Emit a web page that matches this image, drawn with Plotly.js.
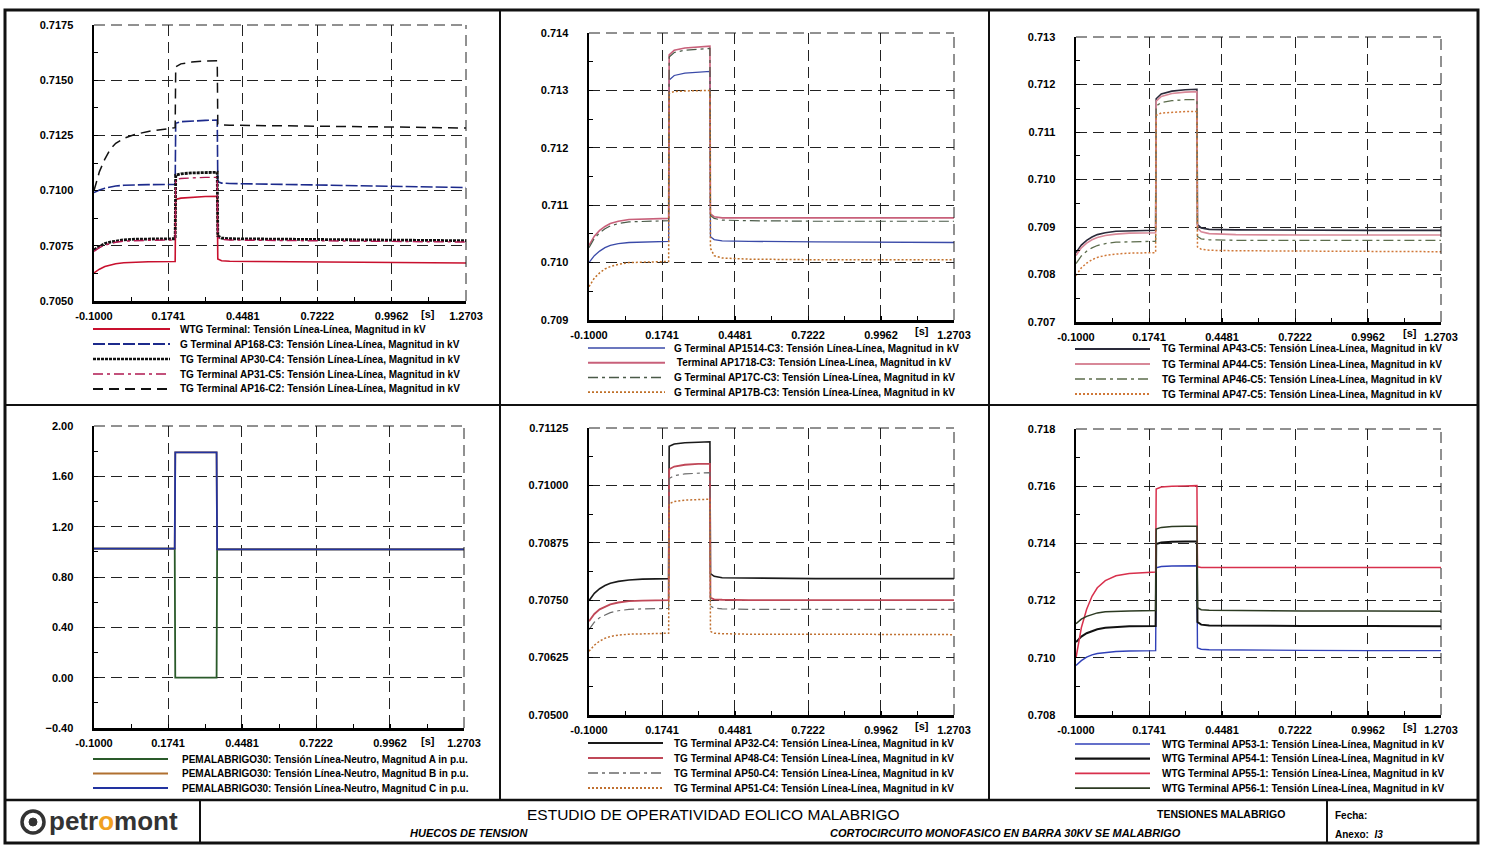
<!DOCTYPE html>
<html><head><meta charset="utf-8">
<script src="https://cdn.plot.ly/plotly-3.0.1.min.js"></script>
<style>html,body{margin:0;padding:0;background:#fff;}#chart{width:1485px;height:845px;}</style>
</head><body><div id="chart"></div>
<script>
// ---------- DATA ----------
const t = [-0.1, -0.08, -0.06, -0.04, -0.02, 0.01, 0.05, 0.10, 0.199, 0.201, 0.22, 0.26, 0.31, 0.354, 0.356, 0.37, 0.40, 0.50, 0.75, 1.00, 1.2703];
const xTickVals = [-0.1, 0.1741, 0.4481, 0.7222, 0.9962, 1.2703];
const xTickText = ["-0.1000", "0.1741", "0.4481", "0.7222", "0.9962", "1.2703"];

// Panel 1
const p1Names = [
  "WTG Terminal: Tensión Línea-Línea, Magnitud in kV",
  "G Terminal AP168-C3: Tensión Línea-Línea, Magnitud in kV",
  "TG Terminal AP30-C4: Tensión Línea-Línea, Magnitud in kV",
  "TG Terminal AP31-C5: Tensión Línea-Línea, Magnitud in kV",
  "TG Terminal AP16-C2: Tensión Línea-Línea, Magnitud in kV"];
const p1_wtg   = [0.70627,0.70644,0.70656,0.70663,0.70669,0.70673,0.70676,0.70678,0.70679, 0.70960,0.70966,0.70970,0.70973,0.70974, 0.70690,0.70682,0.70680,0.70679,0.70677,0.70675,0.70672];
const p1_ap168 = [0.70991,0.71003,0.71011,0.71017,0.71021,0.71024,0.71026,0.71027,0.71028, 0.71305,0.71312,0.71316,0.71318,0.71319, 0.71040,0.71034,0.71032,0.71030,0.71025,0.71019,0.71014];
const p1_ap30  = [0.70732,0.70748,0.70760,0.70767,0.70772,0.70777,0.70780,0.70781,0.70782, 0.71070,0.71076,0.71080,0.71082,0.71083, 0.70795,0.70785,0.70782,0.70781,0.70779,0.70776,0.70773];
const p1_ap31  = [0.70725,0.70742,0.70753,0.70761,0.70766,0.70771,0.70774,0.70775,0.70776, 0.71050,0.71055,0.71058,0.71060,0.71060, 0.70788,0.70779,0.70776,0.70775,0.70773,0.70770,0.70767];
const p1_ap16  = [0.71000,0.71086,0.71143,0.71188,0.71214,0.71237,0.71254,0.71268,0.71285, 0.71560,0.71574,0.71582,0.71587,0.71588, 0.71300,0.71297,0.71296,0.71295,0.71292,0.71288,0.71283];

// Panel 2
const p2Names = [
  "G Terminal AP1514-C3: Tensión Línea-Línea, Magnitud in kV",
  " Terminal AP1718-C3: Tensión Línea-Línea, Magnitud in kV",
  "G Terminal AP17C-C3: Tensión Línea-Línea, Magnitud in kV",
  "G Terminal AP17B-C3: Tensión Línea-Línea, Magnitud in kV"];
const p2_ap1514 = [0.71000,0.71012,0.71020,0.71026,0.71030,0.71033,0.71035,0.71036,0.71037, 0.71318,0.71326,0.71330,0.71332,0.71333, 0.71045,0.71040,0.71038,0.71037,0.71036,0.71036,0.71035];
const p2_ap1718 = [0.71030,0.71046,0.71056,0.71063,0.71068,0.71072,0.71075,0.71076,0.71077, 0.71362,0.71370,0.71374,0.71376,0.71377, 0.71085,0.71080,0.71078,0.71078,0.71078,0.71078,0.71078];
const p2_ap17c  = [0.71026,0.71042,0.71052,0.71059,0.71064,0.71068,0.71071,0.71072,0.71073, 0.71358,0.71366,0.71370,0.71372,0.71373, 0.71082,0.71077,0.71074,0.71073,0.71072,0.71072,0.71072];
const p2_ap17b  = [0.70958,0.70973,0.70982,0.70989,0.70993,0.70997,0.71000,0.71001,0.71002, 0.71295,0.71298,0.71299,0.71300,0.71300, 0.71025,0.71012,0.71008,0.71006,0.71005,0.71005,0.71005];

// Panel 3
const p3Names = [
  "TG Terminal AP43-C5: Tensión Línea-Línea, Magnitud in kV",
  "TG Terminal AP44-C5: Tensión Línea-Línea, Magnitud in kV",
  "TG Terminal AP46-C5: Tensión Línea-Línea, Magnitud in kV",
  "TG Terminal AP47-C5: Tensión Línea-Línea, Magnitud in kV"];
const p3_ap43 = [0.70846,0.70862,0.70872,0.70879,0.70884,0.70888,0.70891,0.70892,0.70893, 0.71170,0.71180,0.71186,0.71189,0.71190, 0.70905,0.70898,0.70895,0.70894,0.70893,0.70893,0.70893];
const p3_ap44 = [0.70840,0.70856,0.70866,0.70873,0.70878,0.70882,0.70885,0.70887,0.70888, 0.71165,0.71175,0.71181,0.71184,0.71185, 0.70898,0.70890,0.70886,0.70884,0.70883,0.70883,0.70883];
const p3_ap46 = [0.70823,0.70839,0.70849,0.70856,0.70861,0.70865,0.70868,0.70869,0.70870, 0.71155,0.71162,0.71166,0.71168,0.71168, 0.70880,0.70875,0.70873,0.70872,0.70872,0.70872,0.70872];
const p3_ap47 = [0.70798,0.70814,0.70824,0.70831,0.70836,0.70840,0.70843,0.70845,0.70846, 0.71135,0.71140,0.71142,0.71143,0.71143, 0.70858,0.70853,0.70851,0.70850,0.70849,0.70849,0.70848];

// Panel 4
const p4Names = [
  "PEMALABRIGO30: Tensión Línea-Neutro, Magnitud A in p.u.",
  "PEMALABRIGO30: Tensión Línea-Neutro, Magnitud B in p.u.",
  "PEMALABRIGO30: Tensión Línea-Neutro, Magnitud C in p.u."];
const p4_a = [1.025,1.025,1.025,1.025,1.025,1.025,1.025,1.025,1.025, 0.00,0.00,0.00,0.00,0.00, 1.02,1.02,1.02,1.02,1.02,1.02,1.02];
const p4_b = [1.025,1.025,1.025,1.025,1.025,1.025,1.025,1.025,1.025, 1.79,1.79,1.79,1.79,1.79, 1.02,1.02,1.02,1.02,1.02,1.02,1.02];
const p4_c = [1.025,1.025,1.025,1.025,1.025,1.025,1.025,1.025,1.025, 1.79,1.79,1.79,1.79,1.79, 1.02,1.02,1.02,1.02,1.02,1.02,1.02];

// Panel 5
const p5Names = [
  "TG Terminal AP32-C4: Tensión Línea-Línea, Magnitud in kV",
  "TG Terminal AP48-C4: Tensión Línea-Línea, Magnitud in kV",
  "TG Terminal AP50-C4: Tensión Línea-Línea, Magnitud in kV",
  "TG Terminal AP51-C4: Tensión Línea-Línea, Magnitud in kV"];
const p5_ap32 = [0.70749,0.70765,0.70775,0.70782,0.70787,0.70791,0.70794,0.70796,0.70797, 0.71085,0.71090,0.71093,0.71094,0.71095, 0.70808,0.70802,0.70799,0.70798,0.70797,0.70797,0.70797];
const p5_ap48 = [0.70704,0.70720,0.70730,0.70736,0.70741,0.70745,0.70748,0.70749,0.70750, 0.71035,0.71041,0.71045,0.71047,0.71047, 0.70755,0.70752,0.70751,0.70750,0.70750,0.70750,0.70750];
const p5_ap50 = [0.70686,0.70702,0.70712,0.70718,0.70723,0.70727,0.70730,0.70731,0.70732, 0.71015,0.71021,0.71025,0.71027,0.71028, 0.70737,0.70733,0.70731,0.70730,0.70730,0.70730,0.70730];
const p5_ap51 = [0.70639,0.70652,0.70661,0.70667,0.70671,0.70674,0.70676,0.70677,0.70678, 0.70960,0.70965,0.70968,0.70969,0.70970, 0.70682,0.70678,0.70677,0.70676,0.70676,0.70675,0.70675];

// Panel 6
const p6Names = [
  "WTG Terminal AP53-1: Tensión Línea-Línea, Magnitud in kV",
  "WTG Terminal AP54-1: Tensión Línea-Línea, Magnitud in kV",
  "WTG Terminal AP55-1: Tensión Línea-Línea, Magnitud in kV",
  "WTG Terminal AP56-1: Tensión Línea-Línea, Magnitud in kV"];
const p6_ap53 = [0.70973,0.70990,0.71002,0.71010,0.71015,0.71019,0.71022,0.71024,0.71025, 0.71315,0.71319,0.71321,0.71322,0.71322, 0.71035,0.71030,0.71028,0.71027,0.71026,0.71025,0.71025];
const p6_ap54 = [0.71055,0.71074,0.71086,0.71094,0.71100,0.71105,0.71108,0.71110,0.71111, 0.71398,0.71403,0.71406,0.71407,0.71407, 0.71125,0.71116,0.71113,0.71112,0.71111,0.71111,0.71110];
const p6_ap55 = [0.71000,0.71105,0.71170,0.71215,0.71245,0.71270,0.71287,0.71295,0.71300, 0.71590,0.71597,0.71600,0.71601,0.71602, 0.71318,0.71316,0.71316,0.71316,0.71316,0.71316,0.71316];
const p6_ap56 = [0.71119,0.71135,0.71145,0.71152,0.71157,0.71161,0.71163,0.71164,0.71165, 0.71450,0.71456,0.71459,0.71460,0.71460, 0.71175,0.71168,0.71166,0.71165,0.71164,0.71164,0.71163];

// ---------- STYLES / LAYOUT ----------
const W = 1485, H = 845;
const FONT = "Liberation Sans, Arial, sans-serif";
const px = x => x / W, py = y => 1 - y / H;
const GRIDDASH = '11px,6px';

const panels = [
  {box:[94,466,25,301],  yr:[0.705,0.7175], dt:0.0025,  fmt:'.4f', names:p1Names, data:[p1_wtg,p1_ap168,p1_ap30,p1_ap31,p1_ap16],
   styles:[{color:'#c8102e',width:1.6,dash:'solid'},{color:'#1c2a8c',width:1.6,dash:'12px,3px'},{color:'#111',width:2.8,dash:'3px,1px'},{color:'#b01850',width:1.4,dash:'10px,4px,3px,4px'},{color:'#111',width:1.5,dash:'10px,6px'}],
   leg:{sx0:93,sx1:170,tx:178,y0:329,dy:15}, s:[428,314]},
  {box:[589,954,33,320], yr:[0.709,0.714],  dt:0.001,   fmt:'.3f', names:p2Names, data:[p2_ap1514,p2_ap1718,p2_ap17c,p2_ap17b],
   styles:[{color:'#3a4aa8',width:1.3,dash:'solid'},{color:'#c8607a',width:1.6,dash:'solid'},{color:'#4a5a48',width:1.2,dash:'10px,4px,3px,4px'},{color:'#c07028',width:1.5,dash:'2px,2px'}],
   leg:{sx0:588,sx1:665,tx:672,y0:348,dy:14.7}, s:[922,331]},
  {box:[1076,1441,37,322], yr:[0.707,0.713], dt:0.001,  fmt:'.3f', names:p3Names, data:[p3_ap43,p3_ap44,p3_ap46,p3_ap47],
   styles:[{color:'#2a2a3a',width:1.6,dash:'solid'},{color:'#d88898',width:1.6,dash:'solid'},{color:'#5c6c4c',width:1.3,dash:'10px,4px,3px,4px'},{color:'#d07838',width:1.5,dash:'2px,2px'}],
   leg:{sx0:1075,sx1:1150,tx:1160,y0:349,dy:15}, s:[1410,333]},
  {box:[94,464,426,728], yr:[-0.4,2.0],     dt:0.4,     fmt:'.2f', names:p4Names, data:[p4_a,p4_b,p4_c],
   styles:[{color:'#2a5a2a',width:1.8,dash:'solid'},{color:'#b07030',width:1.8,dash:'solid'},{color:'#2233a0',width:1.8,dash:'solid'}],
   leg:{sx0:93,sx1:168,tx:180,y0:759,dy:14.5}, s:[428,741]},
  {box:[589,954,428,715], yr:[0.705,0.71125], dt:0.00125, fmt:'.5f', names:p5Names, data:[p5_ap32,p5_ap48,p5_ap50,p5_ap51],
   styles:[{color:'#1a1a1a',width:1.6,dash:'solid'},{color:'#c04858',width:1.8,dash:'solid'},{color:'#6a6a6a',width:1.2,dash:'10px,4px,3px,4px'},{color:'#c07030',width:1.5,dash:'2px,2px'}],
   leg:{sx0:588,sx1:663,tx:672,y0:743,dy:15}, s:[922,726]},
  {box:[1076,1441,429,715], yr:[0.708,0.718], dt:0.002,  fmt:'.3f', names:p6Names, data:[p6_ap53,p6_ap54,p6_ap55,p6_ap56],
   styles:[{color:'#3040b8',width:1.4,dash:'solid'},{color:'#111',width:2.0,dash:'solid'},{color:'#d8304c',width:1.5,dash:'solid'},{color:'#2c3a22',width:1.5,dash:'solid'}],
   leg:{sx0:1075,sx1:1150,tx:1160,y0:744,dy:14.7}, s:[1410,727]}
];

const traces = [], shapes = [], annotations = [];
const layout = {
  width: W, height: H, margin:{l:0,r:0,t:0,b:0}, showlegend:false,
  paper_bgcolor:'#fff', plot_bgcolor:'#fff', font:{family:FONT, color:'#000'}
};
const tickFont = {family:FONT, size:11, color:'#000', weight:'bold'};
const legFont = {family:FONT, size:10, color:'#000', weight:'bold'};

panels.forEach((p, i) => {
  const n = i === 0 ? '' : String(i + 1);
  const [x0, x1, y0, y1] = p.box;
  layout['xaxis' + n] = {
    domain:[px(x0), px(x1)], anchor:'y' + n, range:[-0.1, 1.2703],
    tickmode:'array', tickvals:xTickVals, ticktext:xTickText,
    showgrid:true, gridcolor:'#222', griddash:GRIDDASH, gridwidth:1,
    showline:true, linecolor:'#000', linewidth:2.5, zeroline:false,
    ticks:'inside', ticklen:4, tickcolor:'#000', tickfont:tickFont, ticklabelstandoff:3,
    minor:{tickmode:'linear', tick0:-0.1, dtick:0.13703, ticks:'inside', ticklen:4, tickcolor:'#000', showgrid:false},
    fixedrange:true
  };
  layout['yaxis' + n] = {
    domain:[py(y1), py(y0)], anchor:'x' + n, range:p.yr,
    tickmode:'linear', tick0:p.yr[0], dtick:p.dt, tickformat:p.fmt,
    showgrid:true, gridcolor:'#222', griddash:GRIDDASH, gridwidth:1,
    showline:true, linecolor:'#000', linewidth:2.5, zeroline:false,
    ticks:'inside', ticklen:4, tickcolor:'#000', tickfont:tickFont, ticklabelstandoff:16,
    minor:{tickmode:'linear', tick0:p.yr[0], dtick:p.dt / 2, ticks:'inside', ticklen:4, tickcolor:'#000', showgrid:false},
    fixedrange:true
  };
  // dashed grid lines on the top and right edges of the plot area
  shapes.push({type:'line', xref:'x' + n + ' domain', yref:'y' + n + ' domain', x0:0, x1:1, y0:1, y1:1,
    line:{color:'#222', width:1, dash:GRIDDASH}});
  shapes.push({type:'line', xref:'x' + n + ' domain', yref:'y' + n + ' domain', x0:1, x1:1, y0:0, y1:1,
    line:{color:'#222', width:1, dash:GRIDDASH}});
  p.data.forEach((ys, k) => {
    traces.push({type:'scatter', mode:'lines', x:t, y:ys, name:p.names[k], xaxis:'x' + n, yaxis:'y' + n,
      line:{color:p.styles[k].color, width:p.styles[k].width, dash:p.styles[k].dash}, hoverinfo:'skip'});
  });
  // legend (drawn manually to match compact rows)
  p.names.forEach((nm, k) => {
    const yy = p.leg.y0 + k * p.leg.dy;
    const st = p.styles[k];
    shapes.push({type:'line', xref:'paper', yref:'paper', x0:px(p.leg.sx0), x1:px(p.leg.sx1), y0:py(yy), y1:py(yy),
      line:{color:st.color, width:Math.min(st.width + 0.3, 2.4), dash:st.dash}});
    annotations.push({xref:'paper', yref:'paper', x:px(p.leg.tx), y:py(yy), xanchor:'left', yanchor:'middle',
      text:nm, showarrow:false, font:legFont});
  });
  annotations.push({xref:'paper', yref:'paper', x:px(p.s[0]), y:py(p.s[1]), xanchor:'center', yanchor:'middle',
    text:'[s]', showarrow:false, font:tickFont});
});

// frame lines
const frameLine = (xa, ya, xb, yb, w) => shapes.push({type:'line', xref:'paper', yref:'paper',
  x0:px(xa), y0:py(ya), x1:px(xb), y1:py(yb), line:{color:'#111', width:w}});
shapes.push({type:'rect', xref:'paper', yref:'paper', x0:px(5), x1:px(1478), y0:py(843), y1:py(10), line:{color:'#111', width:3}});
frameLine(5, 405, 1478, 405, 2);
frameLine(500, 10, 500, 800, 2);
frameLine(989, 10, 989, 800, 2);
frameLine(5, 800, 1478, 800, 2.5);
frameLine(200, 800, 200, 843, 2);
frameLine(1327, 800, 1327, 843, 2);

// logo
shapes.push({type:'circle', xref:'paper', yref:'paper', x0:px(22), x1:px(44), y0:py(833), y1:py(811), line:{color:'#333', width:3.5}});
shapes.push({type:'circle', xref:'paper', yref:'paper', x0:px(29), x1:px(37), y0:py(826), y1:py(818), fillcolor:'#333', line:{color:'#333', width:1}});
annotations.push({xref:'paper', yref:'paper', x:px(47), y:py(821), xanchor:'left', yanchor:'middle', showarrow:false,
  text:"petr<span style='color:#f0a020'>o</span>mont", font:{family:FONT, size:26, color:'#333', weight:'bold'}});

// footer texts
const NARROW = "Liberation Sans Narrow, Liberation Sans, Arial, sans-serif";
const ft = (x, y, txt, size, anchor) => annotations.push({xref:'paper', yref:'paper', x:px(x), y:py(y),
  xanchor:anchor, yanchor:'middle', showarrow:false, text:txt, font:{family:NARROW, size:size, color:'#000'}});
ft(713, 814, "ESTUDIO DE OPERATIVIDAD EOLICO MALABRIGO", 15.5, 'center');
ft(1221, 814, "<b>TENSIONES MALABRIGO</b>", 10.5, 'center');
ft(469, 833, "<b><i>HUECOS DE TENSION</i></b>", 11, 'center');
ft(1005, 833, "<b><i>CORTOCIRCUITO MONOFASICO EN BARRA 30KV SE MALABRIGO</i></b>", 11, 'center');
ft(1333, 815, "<b>Fecha:</b>", 10, 'left');
ft(1333, 834, "<b>Anexo:</b>  <b><i>I3</i></b>", 10, 'left');

layout.shapes = shapes;
layout.annotations = annotations;
Plotly.newPlot('chart', traces, layout, {staticPlot:true, displayModeBar:false});
</script></body></html>
